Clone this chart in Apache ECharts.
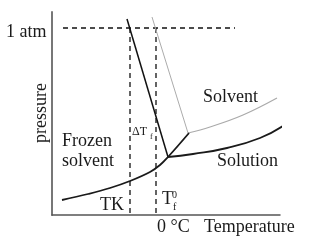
<!DOCTYPE html>
<html>
<head>
<meta charset="utf-8">
<script src="https://cdn.jsdelivr.net/npm/echarts@6/dist/echarts.min.js"></script>
<style>html,body{margin:0;padding:0;background:#fff;}#c{width:313px;height:243px;}</style>
</head>
<body>
<div id="c"></div>
<script>
// Arbitrary temperature (x) / pressure (y) units
var sublimX = [10, 36, 58, 78, 98, 108, 116, 137];
var sublimY = [15, 21, 27, 34, 43, 50, 58, 82];
var solutionFusionX = [75, 116];
var solutionFusionY = [196, 58];
var solventFusionX = [100, 136];
var solventFusionY = [198, 82];
var solventVapX = [136, 158, 191, 225];
var solventVapY = [82, 88, 100, 117];
var solutionVapX = [116, 141, 175, 208, 231];
var solutionVapY = [58, 61, 67, 77, 89];
var atmLevel = 187;
var atmX = [11, 183];
var tkX = 78;
var t0X = 104;

function pts(xs, ys) { return xs.map(function (x, i) { return [x, ys[i]]; }); }

var FONT = '18px "Liberation Serif", serif';
var chart = echarts.init(document.getElementById('c'), null, {renderer: 'canvas'});
var black = '#111';
function lineSeries(data, color, width, type, smooth) {
  return {
    type: 'line', data: data, symbol: 'none', clip: false, smooth: smooth || false,
    lineStyle: {color: color, width: width, type: type || 'solid'},
    silent: true, animation: false
  };
}
var dash = [5, 4];
chart.setOption({
  animation: false,
  grid: {left: 52, right: 33, top: 12, bottom: 28},
  xAxis: {type: 'value', min: 0, max: 228,
    axisLine: {show: true, onZero: false, lineStyle: {color: '#555', width: 1.5}},
    axisTick: {show: false}, axisLabel: {show: false}, splitLine: {show: false}},
  yAxis: {type: 'value', min: 0, max: 203, offset: 1,
    axisLine: {show: true, lineStyle: {color: '#777', width: 2}},
    axisTick: {show: false}, axisLabel: {show: false}, splitLine: {show: false}},
  series: [
    lineSeries([[atmX[0], atmLevel], [atmX[1], atmLevel]], black, 1.3, dash),
    lineSeries([[tkX, atmLevel], [tkX, 0]], black, 1.3, dash),
    lineSeries([[t0X, atmLevel], [t0X, 0]], black, 1.3, dash),
    lineSeries(pts(solventFusionX, solventFusionY), '#ababab', 1),
    lineSeries(pts(solventVapX, solventVapY), '#aaaaaa', 1.2, 'solid', 0.4),
    lineSeries(pts(solutionFusionX, solutionFusionY), black, 1.5),
    lineSeries(pts(solutionVapX, solutionVapY), '#1a1a1a', 1.8, 'solid', 0.5),
    lineSeries(pts(sublimX, sublimY), '#1a1a1a', 1.8, 'solid', 0.4)
  ],
  graphic: [
    {type: 'text', x: 6, y: 32, style: {text: '1 atm', font: FONT, fill: '#1a1a1a', textAlign: 'left', textVerticalAlign: 'middle'}},
    {type: 'text', x: 41, y: 113, rotation: Math.PI / 2, style: {text: 'pressure', font: FONT, fill: '#1a1a1a', textAlign: 'center', textVerticalAlign: 'middle'}},
    {type: 'text', x: 62, y: 141, style: {text: 'Frozen', font: FONT, fill: '#1a1a1a', textAlign: 'left', textVerticalAlign: 'middle'}},
    {type: 'text', x: 62, y: 161, style: {text: 'solvent', font: FONT, fill: '#1a1a1a', textAlign: 'left', textVerticalAlign: 'middle'}},
    {type: 'text', x: 203, y: 97, style: {text: 'Solvent', font: FONT, fill: '#1a1a1a', textAlign: 'left', textVerticalAlign: 'middle'}},
    {type: 'text', x: 217, y: 161, style: {text: 'Solution', font: FONT, fill: '#1a1a1a', textAlign: 'left', textVerticalAlign: 'middle'}},
    {type: 'text', x: 100, y: 205, style: {text: 'TK', font: FONT, fill: '#1a1a1a', textAlign: 'left', textVerticalAlign: 'middle'}},
    {type: 'text', x: 162, y: 199, style: {text: 'T', font: FONT, fill: '#1a1a1a', textAlign: 'left', textVerticalAlign: 'middle'}},
    {type: 'text', x: 172, y: 195, style: {text: '0', font: '10px "Liberation Serif", serif', fill: '#1a1a1a', textAlign: 'left', textVerticalAlign: 'middle'}},
    {type: 'text', x: 173, y: 207, style: {text: 'f', font: '10px "Liberation Serif", serif', fill: '#1a1a1a', textAlign: 'left', textVerticalAlign: 'middle'}},
    {type: 'text', x: 132, y: 132, style: {text: 'ΔT', font: '12px "Liberation Serif", serif', fill: '#1a1a1a', textAlign: 'left', textVerticalAlign: 'middle'}},
    {type: 'text', x: 150, y: 137, style: {text: 'f', font: '8px "Liberation Serif", serif', fill: '#1a1a1a', textAlign: 'left', textVerticalAlign: 'middle'}},
    {type: 'text', x: 157, y: 227, style: {text: '0 °C', font: FONT, fill: '#1a1a1a', textAlign: 'left', textVerticalAlign: 'middle'}},
    {type: 'text', x: 204, y: 227, style: {text: 'Temperature', font: FONT, fill: '#1a1a1a', textAlign: 'left', textVerticalAlign: 'middle'}}
  ]
});
</script>
</body>
</html>
